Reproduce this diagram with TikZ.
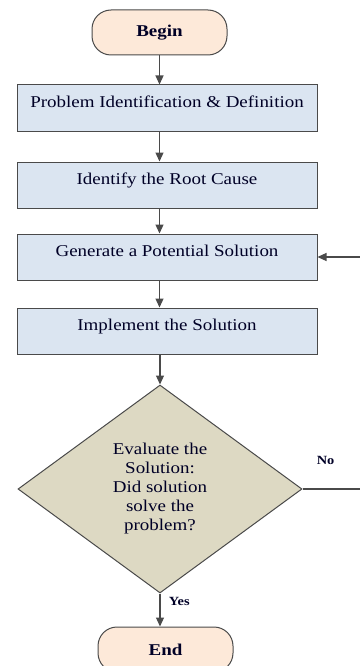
\documentclass[tikz,border=0pt]{standalone}
\usepackage{fontspec}
\setmainfont{Liberation Serif}[FakeStretch=1.15]
\usetikzlibrary{arrows.meta,shapes.geometric}

\definecolor{termfill}{HTML}{FDE9D9}
\definecolor{stepfill}{HTML}{DBE5F1}
\definecolor{testfill}{HTML}{DDD9C3}
\definecolor{edgegray}{HTML}{4A4A4A}

\begin{document}
\begin{tikzpicture}[x=1pt, y=-1pt, >={Triangle[length=9pt,width=8pt]},
   every node/.style={font=\fontsize{16.5}{19}\selectfont, text=black!85!blue},
   term/.style={rectangle, rounded corners=19pt, draw=edgegray, line width=1pt,
                fill=termfill, minimum width=135pt, minimum height=45pt, font=\fontsize{16.5}{19}\selectfont\bfseries},
   stepbox/.style={rectangle, draw=edgegray, line width=1pt, fill=stepfill,
                minimum width=300pt, minimum height=46pt, text depth=13pt},
   test/.style={diamond, draw=edgegray, line width=1pt, fill=testfill, aspect=1.365,
                minimum width=284pt, minimum height=208pt, inner sep=0pt, align=center},
   flow/.style={draw=edgegray, line width=1.2pt}]
   \useasboundingbox (0,0) rectangle (359,666);
   \node (begin) at (159.5,32.5) [term] {Begin};
   \node (ident) at (167,108) [stepbox] {Problem Identification \& Definition};
   \node (root) at (167,185) [stepbox] {Identify the Root Cause};
   \node (gen) at (167,257) [stepbox] {Generate a Potential Solution};
   \node (impl) at (167,331) [stepbox] {Implement the Solution};
   \node (eval) at (160,489) [test] {Evaluate the\\ Solution:\\ Did solution\\ solve the\\ problem?};
   \node (stop) at (165.5,649.5) [term] {End};
   \coordinate (loop) at (385,489);
   \draw[flow,->] (begin) -- (begin.south |- ident.north);
   \draw[flow,->] (begin.south |- ident.south) -- (begin.south |- root.north);
   \draw[flow,->] (begin.south |- root.south) -- (begin.south |- gen.north);
   \draw[flow,->] (begin.south |- gen.south) -- (begin.south |- impl.north);
   \draw[flow,->] (impl.south -| eval.north) -- (eval.north);
   \draw[flow,->] (eval.south) -- node[pos=0.25, right=5pt, font=\fontsize{12.5}{14}\selectfont\bfseries]{Yes} (eval.south |- stop.north);
   \draw[flow,->] (eval.east) -- node[pos=0.28, above=20pt, font=\fontsize{12.5}{14}\selectfont\bfseries]{No} (loop) |- (gen.east);
\end{tikzpicture}
\end{document}
